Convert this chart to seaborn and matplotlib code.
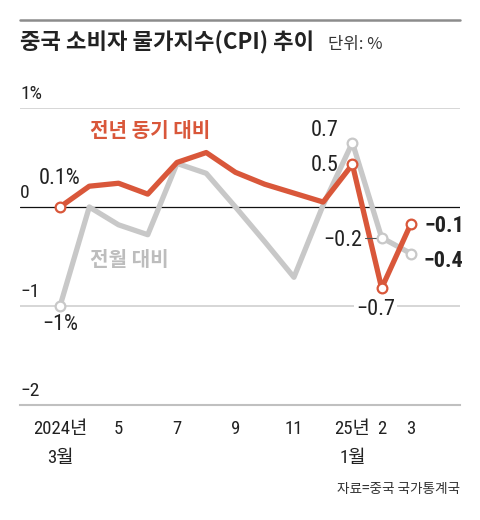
import numpy as np
import pandas as pd
import matplotlib
matplotlib.use("Agg")
import matplotlib.pyplot as plt
import seaborn as sns

# 2024.3 ~ 2025.3, monthly
months = list(range(13))
tick_labels = ["2024년\n3월", "", "5", "", "7", "", "9", "", "11", "", "25년\n1월", "2", "3"]
yoy = [0.0, 0.21, 0.24, 0.13, 0.45, 0.55, 0.35, 0.23, 0.14, 0.05, 0.43, -0.82, -0.17]
mom = [-1.0, 0.0, -0.18, -0.28, 0.44, 0.34, 0.0, -0.35, -0.71, 0.02, 0.65, -0.31, -0.47]
marked = [0, 10, 11, 12]

RED = "#d9573a"
GRAY = "#c8c8c8"
DARK = "#222222"

sns.set_style("white")
plt.rcParams["font.family"] = ["Roboto Condensed", "Noto Sans CJK KR", "DejaVu Sans"]
plt.rcParams["axes.unicode_minus"] = True

df = pd.DataFrame({"month": months, "yoy": yoy, "mom": mom})

fig = plt.figure(figsize=(4.8, 5.2), dpi=100)
ax = fig.add_axes([20 / 480, 1 - 405 / 520, 440 / 480, (405 - 108) / 520])

# reference lines
ax.axhline(1, color="#d0d0d0", lw=1.2, zorder=1)
ax.axhline(-1, color="#d0d0d0", lw=1.2, zorder=1)
ax.axhline(0, color="#111111", lw=0.9, zorder=1)

sns.lineplot(data=df, x="month", y="mom", ax=ax, color=GRAY, lw=3.8, zorder=2)
sns.lineplot(data=df, x="month", y="yoy", ax=ax, color=RED, lw=3.8, zorder=3)
ax.plot(df["month"].iloc[marked], df["mom"].iloc[marked], "o", ms=7, mfc="white",
        mec=GRAY, mew=1.6, zorder=4)
ax.plot(df["month"].iloc[marked], df["yoy"].iloc[marked], "o", ms=7, mfc="white",
        mec=RED, mew=1.6, zorder=5)

ax.set_xlim(-1.37, 13.68)
ax.set_ylim(-2, 1)
ax.set_xlabel("")
ax.set_ylabel("")
ax.set_yticks([])
ax.set_xticks(months)
ax.set_xticklabels(tick_labels, fontsize=13.5, color=DARK, linespacing=1.75, va="top")
ax.tick_params(axis="x", direction="in", length=8, width=1, color="#999999", pad=11)
for s in ["top", "left", "right"]:
    ax.spines[s].set_visible(False)
ax.spines["bottom"].set_color("#c0c0c0")
ax.spines["bottom"].set_linewidth(1.5)

# y labels sitting above the lines
for v, t in [(1, "1%"), (0, "0"), (-1, "−1"), (-2, "−2")]:
    ax.text(-1.37, v + 0.05, t, fontsize=14, color=DARK, ha="left", va="bottom")

# value annotations
kw = dict(fontsize=16, color=DARK, ha="center", va="center")
ax.text(0, 0.29, "0.1%", **kw)
ax.text(0, -1.19, "−1%", **kw)
ax.text(9.04, 0.77, "0.7", **kw)
ax.text(9.04, 0.42, "0.5", **kw)
ax.text(9.68, -0.34, "−0.2", **kw)
ax.plot([10.43, 10.9], [-0.31, -0.31], color="#555555", lw=0.8, zorder=3)
ax.text(10.8, -1.04, "−0.7", fontsize=16, color=DARK, ha="center", va="center",
        bbox=dict(fc="white", ec="none", pad=1.5), zorder=6)
ax.text(12.48, -0.19, "−0.1", fontsize=16, color=DARK, ha="left", va="center", fontweight="bold")
ax.text(12.42, -0.55, "−0.4", fontsize=16, color=DARK, ha="left", va="center", fontweight="bold")

# series names
ax.text(1.03, 0.77, "전년 동기 대비", fontsize=14.5, color=RED, fontweight="bold",
        ha="left", va="center", family=["Noto Sans CJK KR", "DejaVu Sans"])
ax.text(1.03, -0.53, "전월 대비", fontsize=14.5, color="#bdbdbd", fontweight="bold",
        ha="left", va="center", family=["Noto Sans CJK KR", "DejaVu Sans"])

# header
fig.add_artist(plt.Line2D([20 / 480, 460 / 480], [1 - 20 / 520, 1 - 20 / 520],
                          color="#8c8c8c", lw=1.8))
fig.text(20 / 480, 1 - 43 / 520, "중국 소비자 물가지수(CPI) 추이", fontsize=16,
         fontweight="bold", color=DARK, ha="left", va="center",
         family=["Noto Sans CJK KR", "DejaVu Sans"])
fig.text(328 / 480, 1 - 44 / 520, "단위: %", fontsize=12, color="#333333",
         ha="left", va="center", family=["Noto Sans CJK KR", "DejaVu Sans"])
fig.text(460 / 480, 1 - 489 / 520, "자료=중국 국가통계국", fontsize=9.8, color="#333333",
         ha="right", va="center", family=["Noto Sans CJK KR", "DejaVu Sans"])

fig.savefig("out.png", dpi=100)
